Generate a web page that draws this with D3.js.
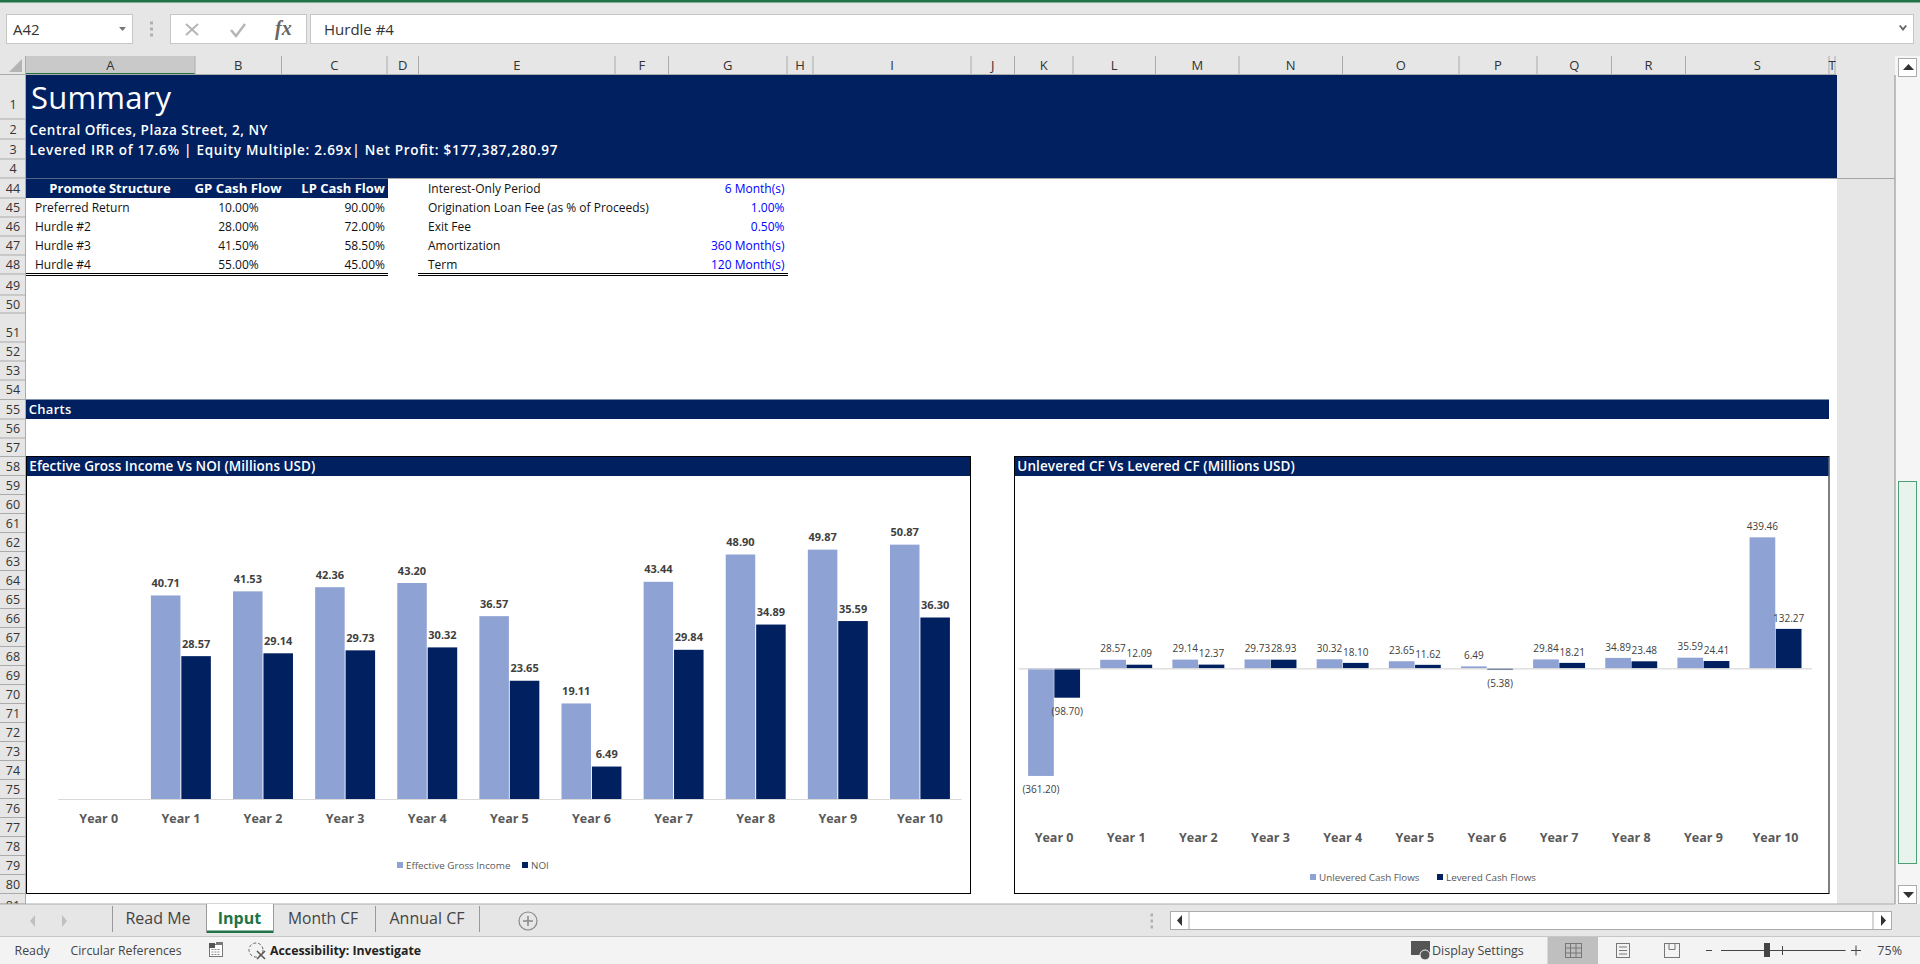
<!DOCTYPE html>
<html>
<head>
<meta charset="utf-8">
<title>Summary</title>
<script src="https://cdn.jsdelivr.net/npm/d3@7/dist/d3.min.js"></script>
<style>
  html, body { margin: 0; padding: 0; background: #e6e6e6; overflow: hidden; }
  svg { display: block; }
  text { font-family: "Open Sans", sans-serif; dominant-baseline: central; }
</style>
</head>
<body>
<svg id="sheet" width="1920" height="964"></svg>
<script>
// chart data
const years = ["Year 0", "Year 1", "Year 2", "Year 3", "Year 4", "Year 5", "Year 6", "Year 7", "Year 8", "Year 9", "Year 10"];
const effectiveGrossIncome = [null, 40.71, 41.53, 42.36, 43.20, 36.57, 19.11, 43.44, 48.90, 49.87, 50.87];
const noi = [null, 28.57, 29.14, 29.73, 30.32, 23.65, 6.49, 29.84, 34.89, 35.59, 36.30];
const unleveredCF = [-361.20, 28.57, 29.14, 29.73, 30.32, 23.65, 6.49, 29.84, 34.89, 35.59, 439.46];
const leveredCF = [-98.70, 12.09, 12.37, 28.93, 18.10, 11.62, -5.38, 18.21, 23.48, 24.41, 132.27];

// sheet text
const promoteHeader = ["Promote Structure", "GP Cash Flow", "LP Cash Flow"];
const promoteNames = ["Preferred Return", "Hurdle #2", "Hurdle #3", "Hurdle #4"];
const gpShare = ["10.00%", "28.00%", "41.50%", "55.00%"];
const lpShare = ["90.00%", "72.00%", "58.50%", "45.00%"];
const loanNames = ["Interest-Only Period", "Origination Loan Fee (as % of Proceeds)", "Exit Fee", "Amortization", "Term"];
const loanValues = ["6 Month(s)", "1.00%", "0.50%", "360 Month(s)", "120 Month(s)"];
const colLabels = "ABCDEFGHIJKLMNOPQRST".split("");
const rowLabels = [1, 2, 3, 4].concat(d3.range(44, 82));

// layout of the spreadsheet grid
const colEdges = [25.5, 195, 281.5, 387, 418.5, 615, 668.5, 787, 813, 971, 1014.5, 1073, 1155.5, 1239, 1342.5, 1459, 1537, 1611.5, 1685.5, 1829, 1835];
const rowEdges = [75, 119, 139, 159, 178, 198, 217, 236, 255, 274, 295, 313, 342, 361, 380, 399.5, 419, 438, 456.5]
  .concat(d3.range(23).map(i => 475.5 + i * 19)).concat([904]);

const navy = "#002060", lightBlue = "#8fa2d4", headGrey = "#e6e6e6", lineGrey = "#ababab";
const svg = d3.select("#sheet");

function txt(g, s, x, y, size, opts) {
  opts = opts || {};
  const t = g.append("text")
    .attr("x", x).attr("y", y)
    .attr("font-size", size)
    .attr("font-weight", opts.weight || 400)
    .attr("fill", opts.fill || "#000")
    .attr("text-anchor", opts.anchor || "start")
    .text(s);
  // these strings run wider in the sheet than in Open Sans
  if (opts.len) t.attr("textLength", opts.len).attr("lengthAdjust", "spacing");
  return t;
}
function box(g, x, y, w, h, fill, stroke) {
  return g.append("rect").attr("x", x).attr("y", y).attr("width", w).attr("height", h)
    .attr("fill", fill).attr("stroke", stroke || "none");
}
function seg(g, x1, y1, x2, y2, stroke, width) {
  return g.append("line").attr("x1", x1).attr("y1", y1).attr("x2", x2).attr("y2", y2)
    .attr("stroke", stroke).attr("stroke-width", width || 1);
}

// ribbon + formula bar
const ribbon = svg.append("g");
box(ribbon, 0, 0, 1920, 964, headGrey);
box(ribbon, 0, 0, 1920, 2.5, "#217346");
box(ribbon, 6.5, 14.5, 126, 29, "#fff", "#c6c6c6");
txt(ribbon, "A42", 13, 29, 15, {fill: "#333"});
ribbon.append("path").attr("d", "M119 27h7l-3.5 4z").attr("fill", "#777");
ribbon.selectAll(".dot").data([23, 29, 35]).join("rect").attr("x", 150).attr("y", d => d - 1.5).attr("width", 3).attr("height", 3).attr("fill", "#b0b0b0");
box(ribbon, 170.5, 14.5, 136, 29, "#fff", "#c6c6c6");
ribbon.append("path").attr("d", "M186 24l12 11M198 24l-12 11").attr("stroke", "#b5b5b5").attr("stroke-width", 2).attr("fill", "none");
ribbon.append("path").attr("d", "M231 30l5 6 9-12").attr("stroke", "#b5b5b5").attr("stroke-width", 2.5).attr("fill", "none");
txt(ribbon, "fx", 275, 28, 20, {fill: "#666", weight: 700}).style("font-family", "Liberation Serif").attr("font-style", "italic");
box(ribbon, 310.5, 14.5, 1603, 29, "#fff", "#c6c6c6");
txt(ribbon, "Hurdle #4", 324, 29, 15, {fill: "#333"});
ribbon.append("path").attr("d", "M1899 26l4 5 4-5-1.5-1-2.5 3-2.5-3z").attr("fill", "#666");

// column + row headers
const head = svg.append("g");
box(head, 25.5, 56, 169.5, 18, "#c9c9c9");
box(head, 25.5, 73, 169.5, 2, "#217346");
head.append("path").attr("d", "M9 72L22 59V72z").attr("fill", "#b4b4b4");
seg(head, 0, 74.5, 1836, 74.5, lineGrey);
seg(head, 25.5, 56, 25.5, 904, lineGrey);
colLabels.forEach((c, i) => {
  const a = colEdges[i], b = colEdges[i + 1];
  seg(head, b, 56, b, 74, lineGrey);
  txt(head, c, (a + b) / 2, 65, 13, {anchor: "middle", fill: "#333"});
});
rowLabels.forEach((r, i) => {
  const a = rowEdges[i], b = rowEdges[i + 1];
  seg(head, 0, b, 25.5, b, lineGrey);
  // row 51 is taller and sits its number low, row 81 is cut off
  let cy = Math.max((a + b) / 2, b - 10);
  if (r === 1) cy = 104;
  if (r === 81) cy = b + 1;
  txt(head, r, 13, cy, 12.5, {anchor: "middle", fill: "#333"});
});

// white sheet area
const cells = svg.append("g");
box(cells, 26, 75, 1811, 829, "#fff");
box(cells, 26, 75, 1811, 103, navy);
seg(cells, 26, 178.5, 1895, 178.5, "#a6a6a6", 1.2);
txt(cells, "Summary", 31, 97, 31, {fill: "#fff", len: 140});
txt(cells, "Central Offices, Plaza Street, 2, NY", 29.5, 130, 13.5, {fill: "#fff", weight: 600, len: 238});
txt(cells, "Levered IRR of 17.6% | Equity Multiple: 2.69x| Net Profit: $177,387,280.97", 29.5, 150, 13.5, {fill: "#fff", weight: 600, len: 528});

// promote table
const rowY = d3.scaleLinear().domain([0, 1]).range([188, 207]);
box(cells, 26, 178.5, 362, 19.5, navy);
txt(cells, promoteHeader[0], 110, 188, 13, {fill: "#fff", weight: 700, anchor: "middle"});
txt(cells, promoteHeader[1], 238, 188, 13.2, {fill: "#fff", weight: 700, anchor: "middle"});
txt(cells, promoteHeader[2], 385, 188, 13, {fill: "#fff", weight: 700, anchor: "end"});
promoteNames.forEach((name, i) => {
  const y = rowY(i + 1);
  txt(cells, name, 35, y, 12, {fill: "#111"});
  txt(cells, gpShare[i], 238.5, y, 12, {fill: "#111", anchor: "middle"});
  txt(cells, lpShare[i], 385, y, 12, {fill: "#111", anchor: "end"});
});
seg(cells, 26, 273.5, 388, 273.5, "#000");
seg(cells, 26, 275.5, 388, 275.5, "#000");

// loan terms table
loanNames.forEach((name, i) => {
  const y = rowY(i);
  txt(cells, name, 428, y, 12, {fill: "#111"});
  txt(cells, loanValues[i], 784.5, y, 12, {fill: "#0000ff", anchor: "end"});
});
seg(cells, 418, 273.5, 788, 273.5, "#000");
seg(cells, 418, 275.5, 788, 275.5, "#000");

// charts section band
box(cells, 26, 399.5, 1803, 19.5, navy);
txt(cells, "Charts", 28.7, 409, 13, {fill: "#fff", weight: 600, len: 42.7});

function drawChart(cfg) {
  const g = svg.append("g");
  box(g, cfg.left + 0.5, 456.5, cfg.right - cfg.left, 437, "#fff", "#000");
  box(g, cfg.left + 1, 457, cfg.right - cfg.left - 1, 19, navy);
  txt(g, cfg.title, cfg.left + 3.3, 466, 13.5, {fill: "#fff", weight: 600, len: cfg.titleLen});

  const x0 = d3.scaleBand().domain(years).range(cfg.xRange).paddingInner(cfg.pad).paddingOuter(cfg.pad / 2);
  const x1 = d3.scaleBand().domain([0, 1]).range([0, x0.bandwidth()]).paddingInner(cfg.gap);
  const y = d3.scaleLinear().domain(cfg.yDomain).range(cfg.yRange);

  cfg.series.forEach((values, s) => {
    const pts = years.map((yr, i) => ({yr: yr, v: values[i]})).filter(d => d.v !== null);
    g.append("g").selectAll("rect").data(pts).join("rect")
      .attr("x", d => x0(d.yr) + x1(s))
      .attr("width", x1.bandwidth())
      .attr("y", d => Math.min(y(d.v), y(0)))
      .attr("height", d => Math.abs(y(d.v) - y(0)))
      .attr("fill", cfg.colors[s]);
    g.append("g").selectAll("text").data(pts).join("text")
      .attr("x", d => x0(d.yr) + x1(s) + x1.bandwidth() / 2)
      .attr("y", d => d.v < 0 ? y(d.v) + cfg.labelOff + 2 : y(d.v) - cfg.labelOff)
      .attr("text-anchor", "middle")
      .attr("font-size", cfg.labelSize)
      .attr("font-weight", cfg.labelWeight)
      .attr("fill", "#404040")
      .text(d => d.v < 0 ? "(" + d3.format(".2f")(-d.v) + ")" : d3.format(".2f")(d.v));
  });

  // the tick labels hang well below the zero line in both charts
  const axis = g.append("g").attr("transform", "translate(0," + y(0) + ")")
    .call(d3.axisBottom(x0).tickSize(0).tickPadding(cfg.tickPad));
  axis.select(".domain").attr("stroke", "#d9d9d9").attr("stroke-width", 1.2);
  axis.selectAll("text")
    .attr("font-size", 12.5).attr("font-weight", 700).attr("fill", "#595959")
    .attr("dy", 0);

  cfg.legend.forEach((name, i) => {
    box(g, cfg.legendX[i], cfg.legendY - 3, 6, 6, cfg.colors[i]);
    txt(g, name, cfg.legendX[i] + 9, cfg.legendY, 9.85, {fill: "#595959"});
  });
}

drawChart({
  left: 26, right: 970,
  title: "Efective Gross Income Vs NOI (Millions USD)", titleLen: 286,
  xRange: [57.7, 961], pad: 0.27, gap: 0.03,
  yDomain: [0, 60], yRange: [799, 499],
  series: [effectiveGrossIncome, noi], colors: [lightBlue, navy],
  labelOff: 13, labelSize: 11, labelWeight: 700, tickPad: 19,
  legend: ["Effective Gross Income", "NOI"], legendX: [397, 522], legendY: 865
});

drawChart({
  left: 1014, right: 1828.5,
  title: "Unlevered CF Vs Levered CF (Millions USD)", titleLen: 277.6,
  xRange: [1018, 1811.6], pad: 0.28, gap: 0.02,
  yDomain: [-400, 500], yRange: [787.5, 519.3],
  series: [unleveredCF, leveredCF], colors: [lightBlue, navy],
  labelOff: 11.3, labelSize: 10, labelWeight: 400, tickPad: 169.5,
  legend: ["Unlevered Cash Flows", "Levered Cash Flows"], legendX: [1310, 1437], legendY: 877
});

// right scrollbar
const vs = svg.append("g");
box(vs, 1837, 75, 58, 829, headGrey);
seg(vs, 1837, 178.5, 1895, 178.5, "#a6a6a6", 1.2);
box(vs, 1895, 56, 25, 848, "#f5f5f5");
seg(vs, 1895, 75, 1895, 904, lineGrey, 1.5);
box(vs, 1898.5, 481.5, 18, 382, "#e9f3ee", "#4f9f74");
box(vs, 1898.5, 58.5, 18, 18, "#fff", lineGrey);
vs.append("path").attr("d", "M1903 70h11l-5.5-6z").attr("fill", "#333");
box(vs, 1898.5, 885.5, 18, 18, "#fff", lineGrey);
vs.append("path").attr("d", "M1903 892h11l-5.5 6z").attr("fill", "#333");

// sheet tabs
const tabs = svg.append("g");
box(tabs, 0, 904, 1920, 33, headGrey);
seg(tabs, 0, 904, 1895, 904, lineGrey, 1.2);
seg(tabs, 0, 936.5, 1920, 936.5, "#c6c6c6");
tabs.append("path").attr("d", "M35 915l-5 6 5 6z").attr("fill", "#c0c0c0");
tabs.append("path").attr("d", "M62 915l5 6-5 6z").attr("fill", "#c0c0c0");
seg(tabs, 112.5, 906, 112.5, 932, "#999");
txt(tabs, "Read Me", 158, 918, 16, {anchor: "middle", fill: "#444"});
box(tabs, 206.5, 904, 67, 28, "#fff");
box(tabs, 206.5, 930.5, 67, 2.5, "#217346");
seg(tabs, 206.5, 904, 206.5, 932, "#999");
seg(tabs, 273.5, 904, 273.5, 932, "#999");
txt(tabs, "Input", 239.5, 918, 16, {anchor: "middle", fill: "#217346", weight: 700});
txt(tabs, "Month CF", 323, 918, 15.6, {anchor: "middle", fill: "#444"});
seg(tabs, 375.5, 906, 375.5, 932, "#999");
txt(tabs, "Annual CF", 427, 918, 16, {anchor: "middle", fill: "#444"});
seg(tabs, 479.5, 906, 479.5, 932, "#999");
tabs.append("circle").attr("cx", 528).attr("cy", 921).attr("r", 9).attr("fill", "none").attr("stroke", "#888").attr("stroke-width", 1.2);
tabs.append("path").attr("d", "M523 921h10M528 916v10").attr("stroke", "#888").attr("stroke-width", 1.5);
tabs.selectAll(".grip").data([915, 921, 927]).join("rect").attr("x", 1150.5).attr("y", d => d - 1.5).attr("width", 2.5).attr("height", 3).attr("fill", "#b0b0b0");
box(tabs, 1170.5, 911.5, 721, 18, "#fff", lineGrey);
seg(tabs, 1189, 911.5, 1189, 929.5, lineGrey);
seg(tabs, 1873, 911.5, 1873, 929.5, lineGrey);
tabs.append("path").attr("d", "M1182 915v11l-5-5.5z").attr("fill", "#333");
tabs.append("path").attr("d", "M1881 915v11l5-5.5z").attr("fill", "#333");

// status bar
const st = svg.append("g");
box(st, 0, 937, 1920, 27, "#f3f3f3");
txt(st, "Ready", 14.5, 950.5, 12.4, {fill: "#444"});
txt(st, "Circular References", 70.5, 950.5, 12.3, {fill: "#444"});
box(st, 209.5, 944.5, 13, 12, "#fff", "#777");
box(st, 209, 943, 6, 5, "#555");
box(st, 216, 942, 7, 3, "#777");
st.append("path").attr("d", "M211.5 949.5h9M211.5 952h9M211.5 954.5h9").attr("stroke", "#888").attr("stroke-dasharray", "2 1").attr("fill", "none");
st.append("circle").attr("cx", 256).attr("cy", 950).attr("r", 7).attr("fill", "none").attr("stroke", "#666").attr("stroke-dasharray", "3 2");
st.append("path").attr("d", "M257 951l8 8M265 951l-8 8").attr("stroke", "#555").attr("stroke-width", 1.5);
txt(st, "Accessibility: Investigate", 270, 950.5, 12.3, {fill: "#222", weight: 700});
box(st, 1411, 941, 19, 14, "#555");
st.append("circle").attr("cx", 1425).attr("cy", 955).attr("r", 5).attr("fill", "#555").attr("stroke", "#f3f3f3");
txt(st, "Display Settings", 1432, 950.5, 12.5, {fill: "#444"});
box(st, 1547.5, 937, 50.5, 27, "#bfbfbf");
box(st, 1565.5, 943.5, 16, 14, "none", "#777");
st.append("path").attr("d", "M1570.5 943.5v14M1576 943.5v14M1565.5 948h16M1565.5 953h16").attr("stroke", "#777").attr("fill", "none");
box(st, 1616.5, 943.5, 13, 14, "none", "#777");
st.append("path").attr("d", "M1619 947h8M1619 950.5h8M1619 954h8").attr("stroke", "#777").attr("fill", "none");
box(st, 1664.5, 943.5, 15, 14, "none", "#777");
st.append("path").attr("d", "M1669 943.5v6h6v-6").attr("stroke", "#777").attr("fill", "none");
seg(st, 1706, 950.5, 1712, 950.5, "#444");
seg(st, 1721, 950.5, 1845.5, 950.5, "#444");
box(st, 1764, 943, 6, 14, "#444");
seg(st, 1782.5, 946, 1782.5, 955, "#444");
st.append("path").attr("d", "M1851 950.5h10M1856 945.5v10").attr("stroke", "#444").attr("fill", "none");
txt(st, "75%", 1902, 950.5, 12.5, {fill: "#444", anchor: "end"});
</script>
</body>
</html>
